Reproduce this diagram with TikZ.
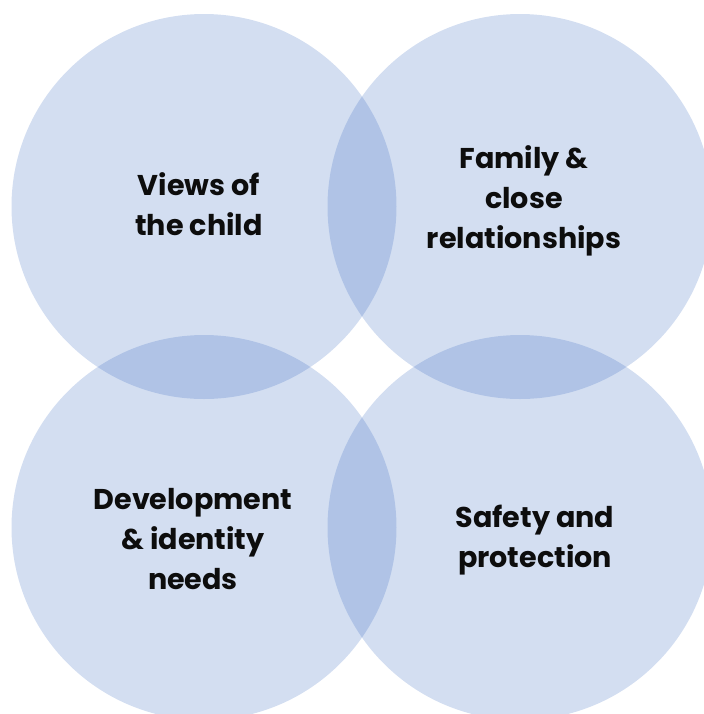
\documentclass[tikz,border=0pt]{standalone}
\usepackage{fontspec}
\setmainfont{Poppins}
\definecolor{vennblue}{RGB}{35,90,185}
\begin{document}
\begin{tikzpicture}[x=0.5pt,y=-0.5pt,
    lobe/.style={fill=vennblue,fill opacity=0.2},
    tag/.style={align=center,text=black!95,font=\bfseries\fontsize{14.3}{20}\selectfont}]
  \useasboundingbox (0,0) rectangle (704,714);
  \clip (0,0) rectangle (704,714);
  \foreach \cx/\cy in {204/206.5,520/206.5,204/527.5,520/527.5}
    \fill[lobe] (\cx,\cy) circle [radius=192.5];
  \node[tag] (views) at (199,204) {Views of\\the child};
  \node[tag] (family) at (524,201) {Family \&\\close\\relationships};
  \node[tag] (develop) at (193,539) {Development\\\& identity\\needs};
  \node[tag] (safety) at (535,540) {Safety and\\protection};
\end{tikzpicture}
\end{document}
